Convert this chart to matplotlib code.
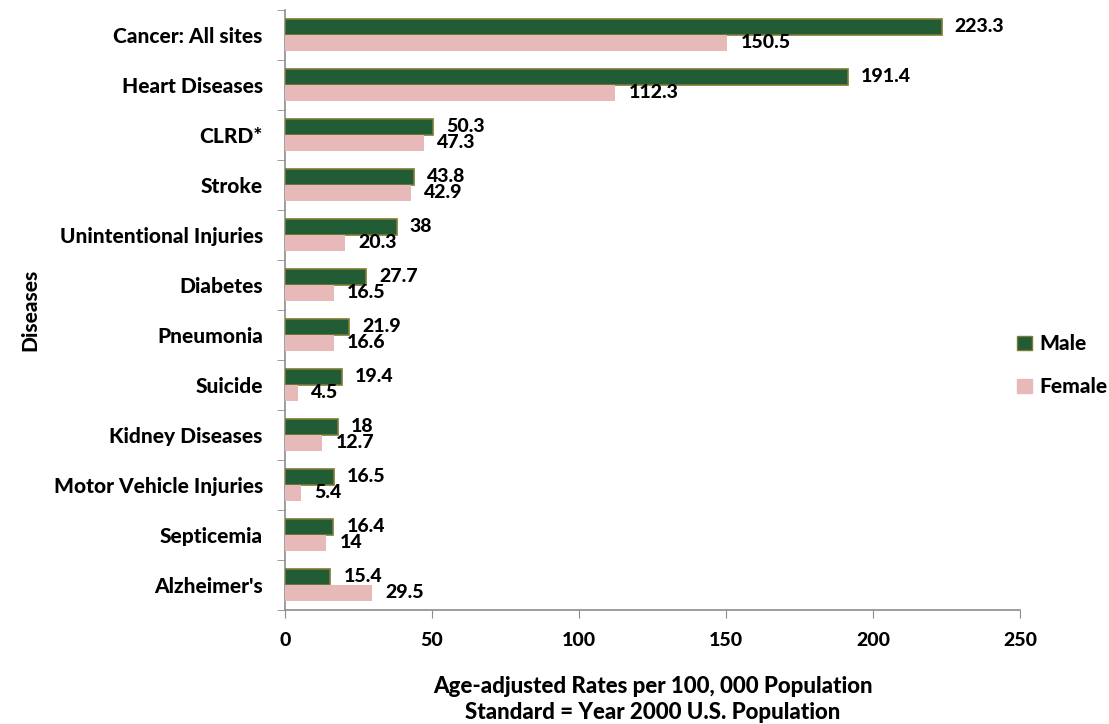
import matplotlib
matplotlib.use("Agg")
import matplotlib.pyplot as plt
import numpy as np
from matplotlib.patches import Patch

plt.rcParams["font.family"] = ["Lato", "DejaVu Sans"]
plt.rcParams["font.weight"] = "bold"

categories = ["Cancer: All sites", "Heart Diseases", "CLRD*", "Stroke",
              "Unintentional Injuries", "Diabetes", "Pneumonia", "Suicide",
              "Kidney Diseases", "Motor Vehicle Injuries", "Septicemia", "Alzheimer's"]
male = [223.3, 191.4, 50.3, 43.8, 38, 27.7, 21.9, 19.4, 18, 16.5, 16.4, 15.4]
female = [150.5, 112.3, 47.3, 42.9, 20.3, 16.5, 16.6, 4.5, 12.7, 5.4, 14, 29.5]
male_labels = ["223.3", "191.4", "50.3", "43.8", "38", "27.7", "21.9", "19.4",
               "18", "16.5", "16.4", "15.4"]
female_labels = ["150.5", "112.3", "47.3", "42.9", "20.3", "16.5", "16.6", "4.5",
                 "12.7", "5.4", "14", "29.5"]

MALE_COLOR = "#225c35"
MALE_EDGE = "#7d7a35"
FEMALE_COLOR = "#e8b9b9"
SPINE = "#8c8c8c"
W = 900

fig = plt.figure(figsize=(11.09, 7.24), dpi=100)
ax = fig.add_axes([285 / 1109, 1 - 610 / 724, 735 / 1109, 600 / 724])

y = np.arange(len(categories))
h = 0.32
ax.barh(y - h / 2, male, height=h, color=MALE_COLOR, edgecolor=MALE_EDGE,
        linewidth=1.2, label="Male", zorder=3)
ax.barh(y + h / 2, female, height=h, color=FEMALE_COLOR, edgecolor=FEMALE_COLOR,
        linewidth=0, label="Female", zorder=3)

for yi, v, lab in zip(y, male, male_labels):
    ax.text(v + 4.5, yi - h / 2, lab, va="center", ha="left", fontsize=14,
            fontweight=W)
for yi, v, lab in zip(y, female, female_labels):
    ax.text(v + 4.5, yi + h / 2, lab, va="center", ha="left", fontsize=14,
            fontweight=W)

ax.set_ylim(len(categories) - 0.5, -0.5)
ax.set_xlim(0, 250)
ax.set_xticks([0, 50, 100, 150, 200, 250])
ax.set_yticks(y)
ax.set_yticklabels(categories, fontsize=15, fontweight=W)
ax.set_yticks(np.arange(len(categories) + 1) - 0.5, minor=True)
ax.tick_params(axis="y", which="major", length=0, pad=16)
ax.tick_params(axis="y", which="minor", length=6, color=SPINE, direction="out")
ax.tick_params(axis="x", length=6, color=SPINE, direction="out", pad=10,
               labelsize=14)
for lbl in ax.get_xticklabels():
    lbl.set_fontweight(W)

for s in ["top", "right"]:
    ax.spines[s].set_visible(False)
for s in ["left", "bottom"]:
    ax.spines[s].set_color(SPINE)
    ax.spines[s].set_linewidth(1.2)

ax.set_xlabel("Age-adjusted Rates per 100, 000 Population\nStandard = Year 2000 U.S. Population",
              fontsize=16, fontweight=W, labelpad=19, linespacing=1.3)
ax.set_ylabel("Diseases", fontsize=15, fontweight=W, labelpad=10)

handles = [Patch(facecolor=MALE_COLOR, edgecolor=MALE_EDGE, label="Male"),
           Patch(facecolor=FEMALE_COLOR, edgecolor=FEMALE_COLOR, label="Female")]
leg = ax.legend(handles=handles, loc="center left", bbox_to_anchor=(0.985, 0.408),
                frameon=False, fontsize=15, handlelength=0.7, handleheight=0.7,
                handletextpad=0.35, labelspacing=1.15, borderaxespad=0)
for t in leg.get_texts():
    t.set_fontweight(W)

fig.savefig("out.png", dpi=100)
